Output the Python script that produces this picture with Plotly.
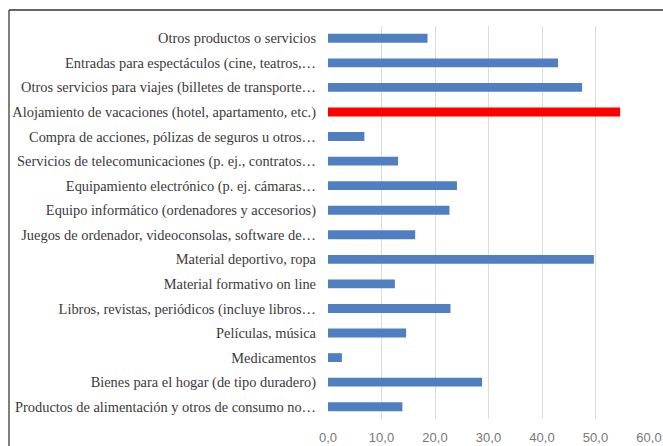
import plotly.graph_objects as go

categories = [
    "Otros productos o servicios",
    "Entradas para espectáculos (cine, teatros,…",
    "Otros servicios para viajes (billetes de transporte…",
    "Alojamiento de vacaciones (hotel, apartamento, etc.)",
    "Compra de acciones, pólizas de seguros u otros…",
    "Servicios de telecomunicaciones (p. ej., contratos…",
    "Equipamiento electrónico (p. ej. cámaras…",
    "Equipo informático (ordenadores y accesorios)",
    "Juegos de ordenador, videoconsolas, software de…",
    "Material deportivo, ropa",
    "Material formativo on line",
    "Libros, revistas, periódicos (incluye libros…",
    "Películas, música",
    "Medicamentos",
    "Bienes para el hogar (de tipo duradero)",
    "Productos de alimentación y otros de consumo no…",
]
values = [18.6, 43.0, 47.5, 54.6, 6.8, 13.1, 24.1, 22.7, 16.3, 49.7, 12.5, 22.9, 14.6, 2.6, 28.8, 13.9]
highlight = "Alojamiento de vacaciones (hotel, apartamento, etc.)"
x_ticks = [0, 10, 20, 30, 40, 50, 60]

colors = ["#FF0000" if c == highlight else "#4F7FC1" for c in categories]

fig = go.Figure(go.Bar(
    x=values, y=categories, orientation="h",
    marker=dict(color=colors, line=dict(width=0)),
    width=0.36,
))

W, H = 663, 446
left, right, top, bottom = 328, 14, 26, 27
plot_w = W - left - right
plot_h = H - top - bottom

fx = (9 - left) / plot_w
fy = (H - bottom - 10) / plot_h

fig.update_layout(
    width=W, height=H,
    margin=dict(l=left, r=right, t=top, b=bottom, pad=0, autoexpand=False),
    paper_bgcolor="white", plot_bgcolor="white",
    separators=",.",
    showlegend=False,
    hovermode=False,
    xaxis=dict(
        range=[0, 60], tickvals=x_ticks, tickformat=".1f",
        showgrid=True, gridcolor="#DCDCDC", gridwidth=1,
        zeroline=False, showline=False, automargin=False,
        tickfont=dict(family="Liberation Sans, Arial", size=13, color="#777777"),
        ticks="", ticklabelstandoff=9, ticklabeloverflow="allow",
    ),
    yaxis=dict(
        autorange="reversed", showgrid=False, zeroline=False, showline=False,
        automargin=False,
        tickfont=dict(family="Liberation Serif, Times New Roman", size=14.4, color="#3A3A3A"),
        ticks="", ticklabelstandoff=11,
    ),
    shapes=[
        dict(type="line", xref="paper", yref="paper",
             x0=fx, x1=fx, y0=fy, y1=-1,
             line=dict(color="#555555", width=1.5)),
        dict(type="line", xref="paper", yref="paper",
             x0=fx, x1=2, y0=fy, y1=fy,
             line=dict(color="#333333", width=1.5)),
    ],
)

fig.write_html(
    "out.html",
    config={"displayModeBar": False, "displaylogo": False},
    post_script=(
        "document.documentElement.style.overflow='hidden';"
        "document.body.style.overflow='hidden';"
        "document.body.style.margin='0';"
    ),
)
